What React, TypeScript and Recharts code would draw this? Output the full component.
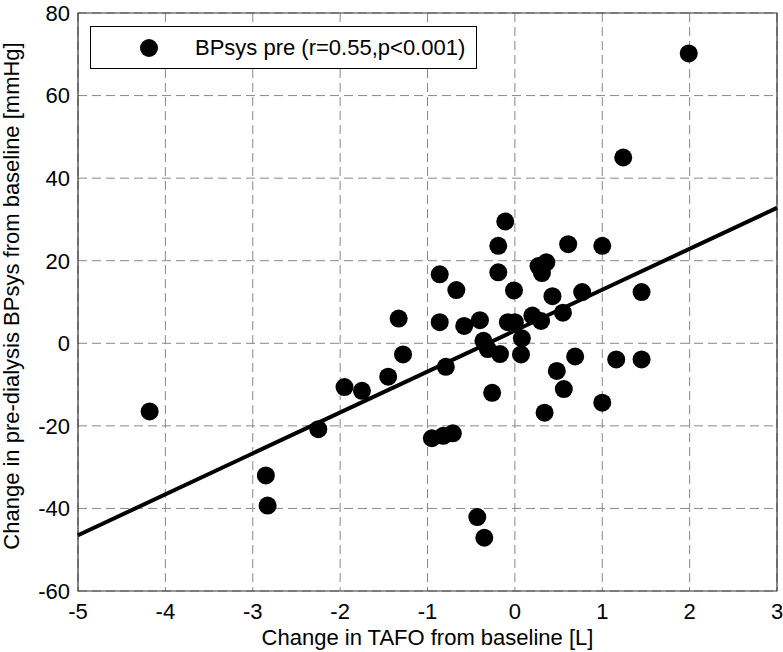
import React from "react";
import {
  ScatterChart,
  Scatter,
  XAxis,
  YAxis,
  CartesianGrid,
  ReferenceLine,
  ReferenceArea,
} from "recharts";

const tafoChange = [
  -4.18, -2.85, -2.83, -2.25, -1.95, -1.75, -1.45, -1.33, -1.28, -0.95,
  -0.82, -0.71, -0.86, -0.86, -0.79, -0.67, -0.58, -0.4, -0.43, -0.35,
  -0.36, -0.31, -0.26, -0.17, -0.19, -0.19, -0.11, -0.08, 0.0, -0.01,
  0.08, 0.07, 0.2, 0.3, 0.27, 0.36, 0.31, 0.34, 0.43, 0.48,
  0.55, 0.56, 0.61, 0.69, 0.77, 1.0, 1.0, 1.16, 1.24, 1.45,
  1.45, 1.99,
];
const bpsysChange = [
  -16.5, -32.0, -39.3, -20.8, -10.6, -11.5, -8.1, 6.0, -2.7, -23.0,
  -22.4, -21.8, 16.7, 5.1, -5.7, 12.9, 4.2, 5.6, -42.1, -47.1,
  0.6, -1.4, -12.0, -2.6, 23.6, 17.2, 29.5, 5.1, 5.1, 12.8,
  1.2, -2.7, 6.7, 5.4, 18.7, 19.6, 17.0, -16.8, 11.4, -6.7,
  7.4, -11.1, 24.0, -3.2, 12.4, 23.6, -14.4, -3.9, 45.0, 12.4,
  -3.9, 70.2,
];
const fitX = [-5, 3];
const fitY = [-46.5, 32.8];
const xTicks = [-5, -4, -3, -2, -1, 0, 1, 2, 3];
const yTicks = [-60, -40, -20, 0, 20, 40, 60, 80];

const legendLabel = "BPsys pre (r=0.55,p<0.001)";
const xLabel = "Change in TAFO from baseline [L]";
const yLabel = "Change in pre-dialysis BPsys from baseline [mmHg]";

const points = tafoChange.map((x, i) => ({ x, y: bpsysChange[i] }));

const FONT = "'Liberation Sans', Arial, sans-serif";

const Dot = (props: any) => {
  const { cx, cy } = props;
  if (cx == null || cy == null) return null;
  return <circle cx={cx} cy={cy} r={9} fill="#000" />;
};

export default function App() {
  return (
    <div style={{ position: "absolute", left: 0, top: 0, width: 783, height: 652, background: "#fff" }}>
      <ScatterChart
        width={783}
        height={652}
        margin={{ top: 13, right: 6, bottom: 0, left: 0 }}
        style={{ fontFamily: FONT }}
      >
        <CartesianGrid stroke="#888" strokeDasharray="9 5" strokeWidth={1} />
        <XAxis
          type="number"
          dataKey="x"
          domain={[-5, 3]}
          ticks={xTicks}
          allowDataOverflow
          height={61}
          tickLine={false}
          axisLine={false}
          tickMargin={6}
          tick={{ fill: "#000", fontSize: 22, fontFamily: FONT }}
          label={{
            content: () => (
              <text x={427.5} y={645} textAnchor="middle" fontSize={22} fill="#000" fontFamily={FONT}>
                {xLabel}
              </text>
            ),
          }}
        />
        <YAxis
          type="number"
          dataKey="y"
          domain={[-60, 80]}
          ticks={yTicks}
          allowDataOverflow
          width={78}
          tickLine={false}
          axisLine={false}
          tick={{ fill: "#000", fontSize: 22, fontFamily: FONT }}
          label={{
            content: () => (
              <text
                transform="translate(19, 296) rotate(-90)"
                textAnchor="middle"
                fontSize={22}
                fill="#000"
                fontFamily={FONT}
              >
                {yLabel}
              </text>
            ),
          }}
        />
        <ReferenceArea x1={-5} x2={3} y1={-60} y2={80} fill="none" stroke="#333" strokeWidth={1.2} fillOpacity={0} />
        <ReferenceLine
          segment={[
            { x: fitX[0], y: fitY[0] },
            { x: fitX[1], y: fitY[1] },
          ]}
          stroke="#000"
          strokeWidth={4}
        />
        <Scatter data={points} shape={Dot} isAnimationActive={false} />
      </ScatterChart>
      <div
        style={{
          position: "absolute",
          left: 90,
          top: 26,
          width: 385,
          height: 41,
          border: "1px solid #000",
          background: "#fff",
          fontFamily: FONT,
          fontSize: 22,
          color: "#000",
        }}
      >
        <svg width={30} height={30} style={{ position: "absolute", left: 43, top: 6 }}>
          <circle cx={15} cy={15} r={9} fill="#000" />
        </svg>
        <span style={{ position: "absolute", left: 104, top: 8, whiteSpace: "nowrap", lineHeight: "25px" }}>
          {legendLabel}
        </span>
      </div>
    </div>
  );
}
